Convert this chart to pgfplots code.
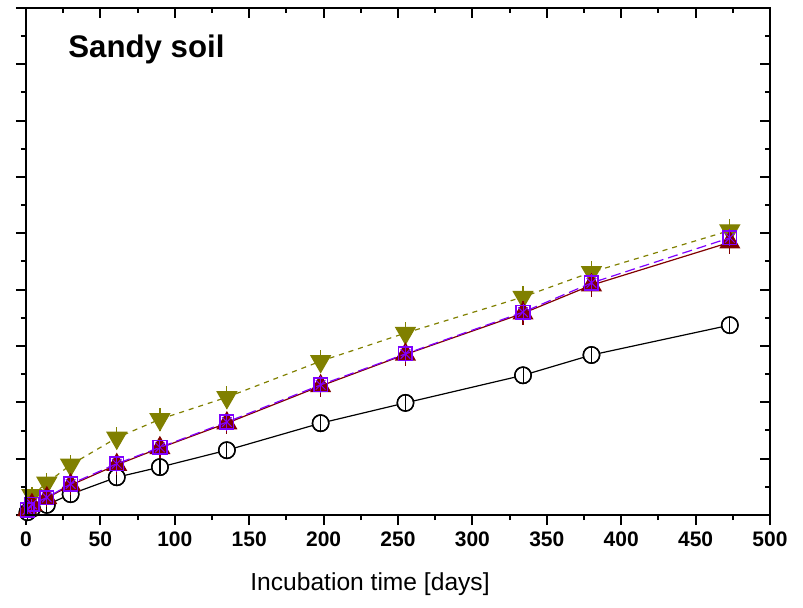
\documentclass[border=0pt]{standalone}
\usepackage{pgfplots}
\pgfplotsset{compat=1.18}
\usepackage{pgfplotstable}
\usepackage{fontspec}
\setmainfont{Liberation Sans}
\definecolor{olv}{HTML}{808000}
\definecolor{drd}{HTML}{800000}
\definecolor{prp}{HTML}{8000FF}

\pgfplotstableread{
x y e f
1 0.05 0.03 0.12
4 0.11 0.03 0.12
14 0.18 0.035 0.13
30 0.37 0.035 0.13
61 0.67 0.035 0.13
90 0.85 0.035 0.13
135 1.15 0.03 0.13
198 1.63 0.035 0.13
255 1.99 0.035 0.13
334 2.48 0.035 0.13
380 2.84 0.03 0.13
473 3.37 0.03 0.13
}\blk

\pgfplotstableread{
x y e
1 0.09 0.12
4 0.18 0.12
14 0.30 0.15
30 0.53 0.17
61 0.89 0.18
90 1.19 0.18
135 1.63 0.20
198 2.29 0.20
255 2.85 0.20
334 3.58 0.21
380 4.08 0.21
473 4.84 0.21
}\red

\pgfplotstableread{
x y e
1 0.09 0.10
4 0.19 0.10
14 0.31 0.12
30 0.55 0.12
61 0.91 0.14
90 1.20 0.14
135 1.65 0.15
198 2.31 0.15
255 2.86 0.15
334 3.60 0.15
380 4.12 0.15
473 4.92 0.15
}\prp

\pgfplotstableread{
x y e
4 0.35 0.15
14 0.57 0.18
30 0.89 0.18
61 1.37 0.20
90 1.70 0.20
135 2.09 0.20
198 2.73 0.20
255 3.23 0.20
334 3.87 0.20
380 4.31 0.20
473 5.05 0.20
}\olv

\pgfplotsset{
  myax/.style={
    width=372pt, height=253.5pt, scale only axis,
    xmin=0, xmax=500, ymin=0, ymax=9,
    xtick={0,50,...,500}, ytick={0,1,...,9},
    minor x tick num=1, minor y tick num=1,
    major tick length=5pt, minor tick length=2.5pt,
    tick style={line width=1pt, black},
    axis line style={line width=1pt},
  }
}

\begin{document}
\begin{tikzpicture}
\begin{axis}[myax,
  clip=false, clip marker paths=true,
  xtick pos=left, ytick pos=left, tick align=outside,
  yticklabels={},
  /pgf/number format/assume math mode=true,
  xticklabel style={font=\bfseries\fontsize{10.5}{12}\selectfont},
  xlabel={Incubation time [days]},
  xlabel style={font=\fontsize{12.3}{14}\selectfont, at={(axis description cs:0.5,0)}, anchor=north, inner sep=0pt, yshift=-28.5pt, xshift=-14pt},
]
\coordinate (SW) at (rel axis cs:0,0);
\coordinate (NE) at (rel axis cs:1,1);

% black circles: line, white knockout, then open circles with error bars
\addplot[black, line width=0.6pt, mark=none] table[x=x, y=y] {\blk};
\addplot[forget plot, only marks, mark=*, mark size=4.1pt,
  mark options={fill=white, draw=white}] table[x=x, y=y] {\blk};
\addplot[forget plot, black, only marks, mark=o, mark size=4.1pt,
  mark options={line width=0.7pt},
  error bars/.cd, y dir=both, y explicit,
  error bar style={black, line width=0.4pt, solid},
  error mark options={black, mark size=0pt}]
  table[x=x, y=y, y error=f] {\blk};
\addplot[forget plot, black, only marks, mark=o, mark size=4.1pt,
  mark options={line width=0.7pt},
  error bars/.cd, y dir=both, y explicit,
  error bar style={black, line width=0.4pt, solid},
  error mark options={black, mark size=3pt, line width=0.45pt}]
  table[x=x, y=y, y error=e] {\blk};

% olive down triangles
\addplot[olv, line width=0.6pt, dash pattern=on 2.5pt off 2.5pt,
  mark=triangle*, mark size=5.6pt,
  mark options={fill=olv, draw=olv, solid, rotate=180},
  error bars/.cd, y dir=both, y explicit,
  error bar style={draw=olv, line width=0.6pt, solid},
  error mark options={draw=olv, mark size=0pt}]
  table[x=x, y=y, y error=e] {\olv};

% dark red triangles
\addplot[drd, line width=0.6pt,
  mark=triangle*, mark size=5.5pt,
  mark options={fill=drd, draw=drd, solid},
  error bars/.cd, y dir=both, y explicit,
  error bar style={draw=drd, line width=0.6pt, solid},
  error mark options={draw=drd, mark size=0pt}]
  table[x=x, y=y, y error=e] {\red};

% purple squares with x
\addplot[prp, line width=0.6pt, dash pattern=on 5pt off 2.5pt,
  mark=square, mark size=3.4pt,
  mark options={draw=prp, line width=0.8pt, solid},
  error bars/.cd, y dir=both, y explicit,
  error bar style={draw=prp, line width=0.5pt, solid},
  error mark options={draw=prp, mark size=0pt}]
  table[x=x, y=y, y error=e] {\prp};
\addplot[forget plot, only marks, mark=x, mark size=3.4pt,
  mark options={draw=prp, line width=0.5pt, solid}]
  table[x=x, y=y] {\prp};

\node[anchor=north west, inner sep=0pt, font=\bfseries\fontsize{15.6}{18}\selectfont]
  at ([xshift=21pt, yshift=-13pt]rel axis cs:0,1) {Sandy soil};
\end{axis}
\begin{axis}[myax,
  xtick pos=right, ytick pos=right, tick align=inside,
  xticklabels={}, yticklabels={},
]
\end{axis}
\pgfresetboundingbox
\path ([shift={(-13pt,-46pt)}]SW) rectangle ([shift={(16.5pt,4pt)}]NE);
\end{tikzpicture}
\end{document}
